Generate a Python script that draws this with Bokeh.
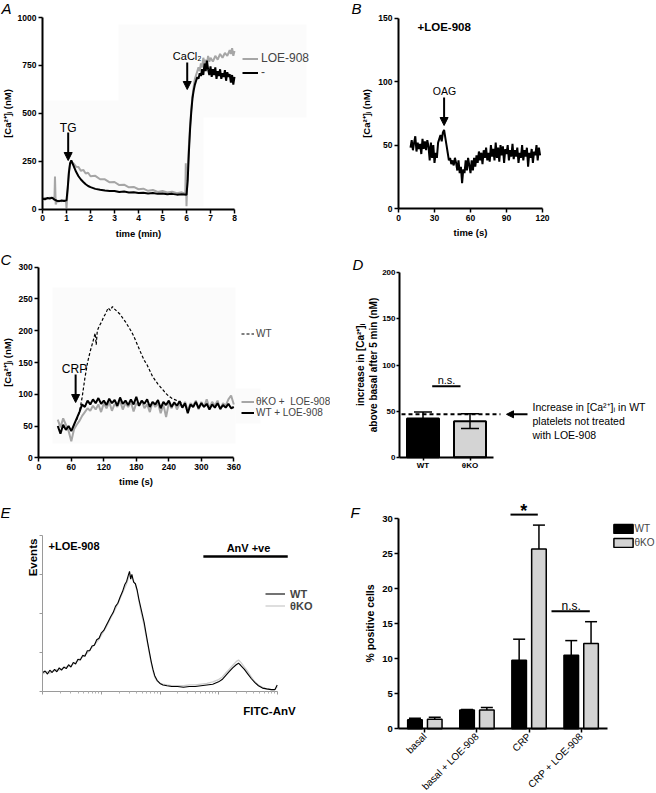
import math
from bokeh.plotting import figure
from bokeh.layouts import column, row
from bokeh.models import (Label, Arrow, NormalHead, TeeHead, Legend, LegendItem,
                          FixedTicker, Whisker, ColumnDataSource, Range1d, BoxAnnotation)
from bokeh.embed import file_html
from bokeh.resources import INLINE

FONT = "Liberation Sans"
CA = "[Ca²⁺]ᵢ"

# ---------------- data ----------------
# Panel A : [Ca2+]i (nM) vs time (min)
a_time_ctrl = [0.0, 0.1, 0.2, 0.3, 0.4, 0.5, 0.6, 0.7, 0.8, 0.9,
               1.0, 1.05, 1.1, 1.15, 1.2, 1.3, 1.4, 1.5, 1.6, 1.7,
               1.8, 1.9, 2.0, 2.2, 2.4, 2.6, 2.8, 3.0, 3.2, 3.4,
               3.6, 3.8, 4.0, 4.2, 4.4, 4.6, 4.8, 5.0, 5.2, 5.4,
               5.6, 5.8, 6.0, 6.05, 6.1, 6.15, 6.2, 6.25, 6.3, 6.35,
               6.4, 6.45, 6.5, 6.55, 6.6, 6.65, 6.7, 6.75, 6.8, 6.85,
               6.9, 6.95, 7.0, 7.05, 7.1, 7.15, 7.2, 7.25, 7.3, 7.35,
               7.4, 7.45, 7.5, 7.55, 7.6, 7.65, 7.7, 7.75, 7.8, 7.85,
               7.9, 7.95, 8.0]
a_ca_ctrl = [55, 52, 58, 56, 60, 50, 44, 42, 45, 43,
             46, 110, 190, 240, 254, 225, 195, 172, 155, 142,
             130, 121, 115, 106, 101, 97, 95, 95, 90, 92,
             87, 89, 85, 86, 82, 84, 80, 82, 78, 80,
             76, 78, 75, 150, 300, 420, 510, 580, 620, 650,
             670, 690, 680, 710, 695, 730, 700, 760, 720, 775,
             730, 700, 745, 690, 730, 700, 740, 680, 720, 695,
             730, 680, 710, 690, 725, 670, 715, 690, 705, 660,
             700, 650, 690]
a_time_loe = [0.0, 0.1, 0.2, 0.3, 0.4, 0.5, 0.52, 0.55, 0.6, 0.7,
              0.8, 0.9, 0.98, 1.0, 1.05, 1.1, 1.15, 1.2, 1.3, 1.4,
              1.5, 1.6, 1.7, 1.8, 1.9, 2.0, 2.2, 2.4, 2.6, 2.8,
              3.0, 3.2, 3.4, 3.6, 3.8, 4.0, 4.2, 4.4, 4.6, 4.8,
              5.0, 5.2, 5.4, 5.6, 5.8, 5.95, 5.97, 6.0, 6.05, 6.1,
              6.15, 6.2, 6.25, 6.3, 6.35, 6.4, 6.45, 6.5, 6.55, 6.6,
              6.65, 6.7, 6.75, 6.8, 6.85, 6.9, 6.95, 7.0, 7.1, 7.2,
              7.3, 7.4, 7.5, 7.6, 7.7, 7.8, 7.85, 7.9, 7.95, 8.0]
a_ca_loe = [55, 58, 56, 60, 58, 62, 170, 25, 40, 44,
            42, 46, 40, 5, 100, 200, 235, 245, 238, 222,
            220, 200, 205, 186, 190, 172, 174, 156, 156, 140,
            142, 126, 128, 114, 116, 104, 107, 96, 100, 90,
            95, 87, 91, 83, 88, 82, 240, 15, 200, 330,
            440, 520, 590, 640, 680, 700, 720, 740, 720, 760,
            740, 790, 760, 780, 750, 800, 770, 790, 770, 800,
            780, 810, 790, 815, 800, 830, 810, 840, 800, 825]
a_tg_time, a_cacl2_time = 1.07, 6.03

# Panel B : +LOE-908, OAG, time (s) from 10 to 118
b_start = 10
b_ca = [48, 54, 46, 52, 57, 45, 52, 47, 51, 43,
        55, 47, 53, 46, 54, 49, 38, 52, 40, 50,
        36, 44, 40, 52, 55, 58, 53, 60, 62, 56,
        50, 44, 38, 40, 35, 38, 34, 40, 36, 30,
        38, 28, 33, 20, 31, 28, 38, 30, 40, 34,
        28, 38, 30, 40, 33, 42, 36, 45, 38, 44,
        35, 46, 40, 48, 38, 44, 37, 50, 41, 47,
        38, 52, 40, 48, 37, 50, 42, 49, 36, 47,
        43, 50, 38, 46, 41, 51, 39, 46, 41, 48,
        36, 44, 40, 50, 38, 46, 41, 48, 33, 44,
        40, 47, 36, 45, 42, 50, 38, 48, 42]
b_oag_time = 38

# Panel C : time (s) 35..360 every 5 s
c_start, c_step = 35, 5
c_wt_loe = [50, 38, 52, 44, 50, 42, 52, 62, 72, 84,
            80, 90, 84, 92, 86, 94, 85, 90, 83, 93,
            86, 91, 82, 95, 85, 90, 83, 92, 84, 96,
            82, 90, 85, 92, 80, 88, 84, 91, 78, 88,
            83, 90, 80, 87, 82, 89, 79, 86, 70, 84,
            80, 88, 78, 86, 80, 85, 76, 84, 79, 86,
            77, 83, 79, 85, 78, 80]
c_ko_loe = [60, 48, 62, 52, 42, 26, 45, 52, 58, 66,
            72, 78, 74, 82, 76, 84, 72, 86, 78, 88,
            74, 85, 80, 90, 76, 86, 80, 88, 73, 86,
            82, 90, 78, 84, 72, 88, 80, 86, 70, 84,
            64, 86, 78, 88, 76, 85, 80, 88, 74, 86,
            82, 90, 76, 88, 80, 92, 78, 88, 82, 90,
            76, 86, 82, 92, 98, 84]
c_wt_time = [70, 75, 80, 85, 90, 95, 100, 104, 106, 108,
             112, 116, 120, 124, 128, 132, 136, 140, 145, 150,
             155, 160, 165, 170, 175, 180, 185, 190, 195, 200,
             205, 210, 215, 220, 225, 230, 235, 240, 245, 250,
             255, 260, 265]
c_wt = [60, 72, 95, 125, 150, 168, 183, 196, 178, 200,
        208, 214, 222, 228, 236, 232, 238, 234, 230, 226,
        220, 214, 207, 200, 192, 182, 172, 162, 153, 146,
        137, 128, 122, 116, 111, 106, 101, 97, 94, 92,
        90, 88, 86]
c_crp_time = 68

# Panel D
d_groups = ["WT", "θKO"]
d_mean = [42, 39]
d_err = [7, 8]
d_wt_untreated = 46.5
d_ns_level = 77

# Panel E : FITC-AnV (log decades) vs events
e_x = [0.00, 0.04, 0.08, 0.12, 0.16, 0.20, 0.24, 0.28, 0.32, 0.36,
       0.40, 0.44, 0.48, 0.52, 0.56, 0.60, 0.64, 0.68, 0.72, 0.76,
       0.80, 0.84, 0.88, 0.92, 0.96, 1.00, 1.04, 1.08, 1.12, 1.16,
       1.20, 1.24, 1.28, 1.32, 1.36, 1.40, 1.43, 1.46, 1.48, 1.50,
       1.52, 1.55, 1.58, 1.61, 1.64, 1.67, 1.70, 1.73, 1.76, 1.79,
       1.82, 1.85, 1.88, 1.91, 1.95, 2.00, 2.05, 2.12, 2.20, 2.30,
       2.40, 2.50, 2.60, 2.70, 2.80, 2.90, 3.00, 3.06, 3.12, 3.18,
       3.24, 3.30, 3.34, 3.38, 3.44, 3.50, 3.56, 3.62, 3.68, 3.75,
       3.82, 3.90, 3.96, 4.00]
e_wt = [24, 26, 22, 27, 24, 28, 25, 30, 27, 31,
        29, 34, 31, 37, 35, 41, 40, 46, 45, 52,
        52, 58, 59, 66, 68, 75, 78, 84, 90, 96,
        101, 109, 113, 121, 128, 137, 141, 149, 154, 144,
        150, 140, 138, 130, 118, 108, 98, 88, 75, 62,
        50, 38, 28, 20, 14, 10, 8, 7, 6, 6,
        5, 6, 6, 7, 8, 9, 12, 15, 20, 25,
        30, 34, 36, 33, 28, 22, 16, 11, 7, 4,
        3, 2, 2, 8]
e_ko = [22, 24, 25, 23, 26, 26, 28, 27, 29, 30,
        31, 32, 33, 35, 37, 39, 42, 44, 47, 49,
        53, 56, 60, 63, 67, 72, 77, 82, 88, 94,
        100, 106, 112, 119, 126, 133, 138, 145, 150, 147,
        146, 142, 137, 128, 116, 104, 94, 84, 72, 60,
        48, 36, 26, 18, 13, 10, 9, 8, 7, 7,
        7, 8, 8, 9, 10, 12, 15, 18, 23, 28,
        33, 38, 40, 37, 31, 25, 18, 12, 8, 5,
        3, 2, 2, 6]
e_anv_gate = (2.74, 4.18)

# Panel F
f_conditions = ["basal", "basal + LOE-908", "CRP", "CRP + LOE-908"]
f_wt_mean = [1.3, 2.7, 9.8, 10.5]
f_wt_sem = [0.2, 0.05, 3.0, 2.1]
f_ko_mean = [1.35, 2.7, 25.7, 12.2]
f_ko_sem = [0.3, 0.35, 3.4, 3.1]
f_star_level = 30.6
f_ns_level = 16.8


# ---------------- helpers ----------------
class Panel:
    """A figure whose frame fills the whole canvas; axes sit at data 0 (fixed_location).
    ox, oy: page position of the canvas; x0/y0: page position of data zero;
    xs/ys: pixels per data unit."""

    def __init__(self, w, h, ox, oy, x0, xs, y0, ys):
        self.w, self.h, self.ox, self.oy = w, h, ox, oy
        self.x0, self.xs, self.y0, self.ys = x0, xs, y0, ys
        fx, fy = x0 - ox, y0 - oy
        p = figure(width=w, height=h,
                   x_range=Range1d(-fx / xs, (w - fx) / xs),
                   y_range=Range1d(-(h - fy) / ys, fy / ys),
                   output_backend="svg", toolbar_location=None, title=None,
                   min_border_left=0, min_border_right=0,
                   min_border_top=0, min_border_bottom=0)
        p.xaxis.fixed_location = 0
        p.yaxis.fixed_location = 0
        p.xgrid.visible = False
        p.ygrid.visible = False
        p.outline_line_color = None
        self.p = p

    def dx(self, px):
        return (px - self.x0) / self.xs

    def dy(self, py):
        return (self.y0 - py) / self.ys


def style(P, tick_size, title_size, color="black", lw=2.0):
    for ax in list(P.p.xaxis) + list(P.p.yaxis):
        ax.axis_line_color = color
        ax.axis_line_width = lw
        ax.major_tick_line_color = color
        ax.major_tick_line_width = 1.5
        ax.major_tick_out = 4
        ax.major_tick_in = 0
        ax.minor_tick_line_color = None
        ax.major_label_text_font = FONT
        ax.major_label_text_font_style = "bold"
        ax.major_label_text_font_size = tick_size
        ax.major_label_text_color = "black"
        ax.axis_label_text_font = FONT
        ax.axis_label_text_font_style = "bold"
        ax.axis_label_text_font_size = title_size
        ax.axis_label_text_color = "black"
        ax.major_label_standoff = 2
        ax.axis_label_standoff = 3


def shade(P, left, right, top, bottom, color="#fbfbfb"):
    P.p.add_layout(BoxAnnotation(left=P.dx(left), right=P.dx(right), top=P.dy(top),
                                 bottom=P.dy(bottom), fill_color=color, fill_alpha=1,
                                 line_color=None, level="underlay"))


def text(P, px, py, s, size, weight="normal", align="center", baseline="middle", angle=0.0):
    P.p.add_layout(Label(x=P.dx(px), y=P.dy(py), text=s, text_font=FONT,
                         text_font_size=size, text_font_style=weight,
                         text_align=align, text_baseline=baseline,
                         angle=angle, text_color="black"))


def letter(P, px, py_center, s):
    text(P, px, py_center, s, "15px", weight="italic", align="left", baseline="middle")


def arrow(P, x, y_top, y_tip, size=8, lw=2):
    P.p.add_layout(Arrow(end=NormalHead(size=size, fill_color="black", line_color="black",
                                        line_width=1),
                         x_start=x, y_start=y_top, x_end=x, y_end=y_tip,
                         line_width=lw, line_color="black"))


def legend(P, items, left_px, first_center_px, font_px, step_px, weight="normal",
           gw=16, gh=9, standoff=3):
    item_h = round(font_px * 1.33)
    spacing = round(step_px - item_h)
    n = len(items)
    bottom_px = first_center_px - item_h / 2 + n * item_h + (n - 1) * spacing
    loc = (left_px - P.ox, P.oy + P.h - bottom_px)
    lg = Legend(items=[LegendItem(label=l, renderers=[r]) for l, r in items],
                location=loc, label_text_font=FONT, label_text_font_size=f"{font_px}px",
                label_text_font_style=weight, glyph_width=gw, glyph_height=gh,
                label_height=gh, spacing=spacing, padding=0, margin=0,
                border_line_color=None, background_fill_alpha=0,
                label_standoff=standoff)
    P.p.add_layout(lg)


# ---------------- Panel A ----------------
A = Panel(330, 250, 0, 0, 42, 24, 208.7, 0.1917)
pA = A.p
style(A, "8.5px", "9.5px")
pA.yaxis.axis_label_standoff = 2
pA.xaxis.bounds = (0, 8)
pA.yaxis.bounds = (0, 1000)
pA.xaxis.ticker = FixedTicker(ticks=list(range(0, 9)))
pA.yaxis.ticker = FixedTicker(ticks=[0, 250, 500, 750, 1000])
pA.xaxis.axis_label = "time (min)"
pA.yaxis.axis_label = CA + " (nM)"
shade(A, 118, 306, 24, 117)
shade(A, 44, 203, 100, 206)
rA_loe = pA.line(a_time_loe, a_ca_loe, line_color="#a6a6a6", line_width=2)
rA_ctl = pA.line(a_time_ctrl, a_ca_ctrl, line_color="black", line_width=2)
text(A, 67.7, 127, "TG", "12px")
arrow(A, a_tg_time, A.dy(132), A.dy(160))
text(A, 186.7, 55, "CaCl₂", "11px")
arrow(A, a_cacl2_time, A.dy(62), A.dy(89))
legend(A, [("LOE-908", rA_loe), ("-", rA_ctl)], 242, 60, 12, 11)
letter(A, 1, 8, "A")

# ---------------- Panel B ----------------
B = Panel(325, 250, 330, 0, 398, 1.2, 208, 1.2667)
pB = B.p
style(B, "8.5px", "9.5px")
pB.xaxis.bounds = (0, 120)
pB.yaxis.bounds = (0, 150)
pB.xaxis.ticker = FixedTicker(ticks=[0, 30, 60, 90, 120])
pB.yaxis.ticker = FixedTicker(ticks=[0, 50, 100, 150])
pB.xaxis.axis_label = "time (s)"
pB.yaxis.axis_label = CA + " (nM)"
b_time = [b_start + i for i in range(len(b_ca))]
pB.line(b_time, b_ca, line_color="black", line_width=2)
text(B, 417, 26, "+LOE-908", "11.5px", weight="bold", align="left")
text(B, 444, 90, "OAG", "10.5px")
arrow(B, b_oag_time, B.dy(97), B.dy(125))
letter(B, 351, 8, "B")

# ---------------- Panel C ----------------
C = Panel(330, 245, 0, 250, 38.3, 0.5417, 457.3, 0.6353)
pC = C.p
style(C, "8.5px", "9.5px")
pC.yaxis.axis_label_standoff = 2
pC.xaxis.bounds = (0, 360)
pC.yaxis.bounds = (0, 300)
pC.xaxis.ticker = FixedTicker(ticks=[0, 60, 120, 180, 240, 300, 360])
pC.yaxis.ticker = FixedTicker(ticks=[0, 50, 100, 150, 200, 250, 300])
pC.xaxis.axis_label = "time (s)"
pC.yaxis.axis_label = CA + " (nM)"
shade(C, 52, 235, 287, 443)
shade(C, 235, 260, 388, 423)
c_time = [c_start + c_step * i for i in range(len(c_wt_loe))]
rC_ko = pC.line(c_time, c_ko_loe, line_color="#a6a6a6", line_width=2)
rC_wtl = pC.line(c_time, c_wt_loe, line_color="black", line_width=2)
rC_wt = pC.line(c_wt_time, c_wt, line_color="black", line_width=1.2, line_dash="3 2")
text(C, 74, 368, "CRP", "12px")
arrow(C, c_crp_time, C.dy(374), C.dy(402))
legend(C, [("WT", rC_wt)], 241, 332, 10, 11, gw=13, standoff=2)
legend(C, [("θKO +  LOE-908", rC_ko), ("WT + LOE-908", rC_wtl)], 241, 400, 10, 11,
       gw=13, standoff=2)
letter(C, 0, 259, "C")

# ---------------- Panel D ----------------
D = Panel(325, 245, 330, 250, 399, 47, 456.7, 0.922)
pD = D.p
style(D, "8px", "10px")
pD.xaxis.major_tick_out = 3
pD.xaxis.major_label_standoff = 1
pD.yaxis.major_tick_out = 3
pD.yaxis.major_label_standoff = 1
pD.yaxis.axis_label_standoff = 0
d_x = [i + 0.5 for i in range(len(d_groups))]
pD.xaxis.bounds = (0, len(d_groups))
pD.yaxis.bounds = (0, 200)
pD.xaxis.ticker = FixedTicker(ticks=d_x)
pD.xaxis.major_label_overrides = {x: g for x, g in zip(d_x, d_groups)}
pD.yaxis.ticker = FixedTicker(ticks=[0, 50, 100, 150, 200])
pD.yaxis.axis_label = "increase in " + CA + "\nabove basal after 5 min (nM)"
pD.vbar(x=d_x, top=d_mean, width=0.68, fill_color=["black", "#d4d4d4"],
        line_color="black", line_width=2)
d_src = ColumnDataSource(dict(x=d_x, lower=[m - e for m, e in zip(d_mean, d_err)],
                              upper=[m + e for m, e in zip(d_mean, d_err)]))
pD.add_layout(Whisker(source=d_src, base="x", lower="lower", upper="upper",
                      line_width=1.5, level="annotation",
                      upper_head=TeeHead(size=18, line_width=1.5),
                      lower_head=TeeHead(size=18, line_width=1.5)))
pD.segment(x0=[D.dx(401)], y0=[d_wt_untreated], x1=[D.dx(500)], y1=[d_wt_untreated],
           line_color="black", line_width=2, line_dash="4 3")
pD.add_layout(Arrow(end=NormalHead(size=7, fill_color="black", line_color="black", line_width=1),
                    x_start=D.dx(527), y_start=d_wt_untreated, x_end=D.dx(506),
                    y_end=d_wt_untreated, line_width=2, line_color="black"))
text(D, 532, 406.7, "Increase in " + CA + " in WT", "10.5px", align="left")
text(D, 532, 420.3, "platelets not treated", "10.5px", align="left")
text(D, 532, 434, "with LOE-908", "10.5px", align="left")
pD.segment(x0=[D.dx(431.7)], y0=[d_ns_level], x1=[D.dx(460)], y1=[d_ns_level],
           line_color="black", line_width=2)
text(D, 446, 379, "n.s.", "11px")
letter(D, 352, 264, "D")

# ---------------- Panel E ----------------
E = Panel(330, 298, 0, 495, 42.3, 58.6, 690.7, 0.7785)
pE = E.p
style(E, "1px", "11px", color="#9a9a9a", lw=1)
for ax in list(pE.xaxis) + list(pE.yaxis):
    ax.major_label_text_alpha = 0
    ax.major_tick_line_width = 1
    ax.major_tick_out = 3
pE.xaxis.bounds = (0, 4)
pE.yaxis.bounds = (0, 200)
e_minor = [d + math.log10(k) for d in range(4) for k in range(2, 10)]
pE.xaxis.ticker = FixedTicker(ticks=[0, 1, 2, 3, 4], minor_ticks=e_minor)
pE.xaxis.minor_tick_line_color = "#b0b0b0"
pE.xaxis.minor_tick_out = 2
pE.xaxis.minor_tick_in = 0
pE.yaxis.ticker = FixedTicker(ticks=[0, 50, 100, 150, 200])
rE_ko = pE.line(e_x, e_ko, line_color="#cccccc", line_width=1.3)
rE_wt = pE.line(e_x, e_wt, line_color="black", line_width=1.1)
text(E, 32, 557, "Events", "11.5px", weight="bold", angle=math.pi / 2)
text(E, 48, 545, "+LOE-908", "11px", weight="bold", align="left")
text(E, 248, 547, "AnV +ve", "11px", weight="bold")
pE.segment(x0=[e_anv_gate[0]], y0=[E.dy(556)], x1=[e_anv_gate[1]], y1=[E.dy(556)],
           line_color="black", line_width=2.5)
legend(E, [("WT", rE_wt), ("θKO", rE_ko)], 265, 590, 11, 14, weight="bold",
       gw=20, standoff=5)
text(E, 269, 710, "FITC-AnV", "11.5px", weight="bold")
letter(E, 0, 512, "E")

# ---------------- Panel F ----------------
F = Panel(325, 297, 330, 495, 398.3, 52.1, 728.3, 7.0)
pF = F.p
style(F, "9.5px", "10.5px")
f_x = [i + 0.5 for i in range(len(f_conditions))]
pF.xaxis.bounds = (0, len(f_conditions))
pF.yaxis.bounds = (0, 30)
pF.xaxis.ticker = FixedTicker(ticks=f_x)
pF.xaxis.major_label_overrides = {x: c for x, c in zip(f_x, f_conditions)}
pF.xaxis.major_label_orientation = math.pi / 4
pF.xaxis.major_label_text_font_style = "normal"
pF.xaxis.major_label_text_font_size = "10px"
pF.yaxis.ticker = FixedTicker(ticks=[0, 5, 10, 15, 20, 25, 30])
pF.yaxis.axis_label = "% positive cells"
f_dx, f_w = 0.19, 0.28
f_xwt = [x - f_dx for x in f_x]
f_xko = [x + f_dx for x in f_x]
rF_wt = pF.vbar(x=f_xwt, top=f_wt_mean, width=f_w, fill_color="black",
                line_color="black", line_width=1.5)
rF_ko = pF.vbar(x=f_xko, top=f_ko_mean, width=f_w, fill_color="#d3d3d3",
                line_color="black", line_width=1.5)
for xs, ms, es in ((f_xwt, f_wt_mean, f_wt_sem), (f_xko, f_ko_mean, f_ko_sem)):
    src = ColumnDataSource(dict(x=xs, lower=ms, upper=[m + e for m, e in zip(ms, es)]))
    pF.add_layout(Whisker(source=src, base="x", lower="lower", upper="upper",
                          line_width=1.5, level="annotation",
                          upper_head=TeeHead(size=12, line_width=1.5), lower_head=None))
pF.segment(x0=[F.dx(510)], y0=[f_star_level], x1=[F.dx(537.3)], y1=[f_star_level],
           line_color="black", line_width=2)
text(F, 523.3, 510, "*", "18px", weight="bold", baseline="alphabetic")
pF.segment(x0=[F.dx(551)], y0=[f_ns_level], x1=[F.dx(589.3)], y1=[f_ns_level],
           line_color="black", line_width=2)
text(F, 570.7, 605, "n.s.", "12px")
legend(F, [("WT", rF_wt), ("θKO", rF_ko)], 610.5, 525, 10, 16, gw=24, gh=11, standoff=0)
letter(F, 350, 512, "F")

layout = column(row(A.p, B.p), row(C.p, D.p), row(E.p, F.p))
open("out.html", "w").write(file_html(layout, INLINE))
